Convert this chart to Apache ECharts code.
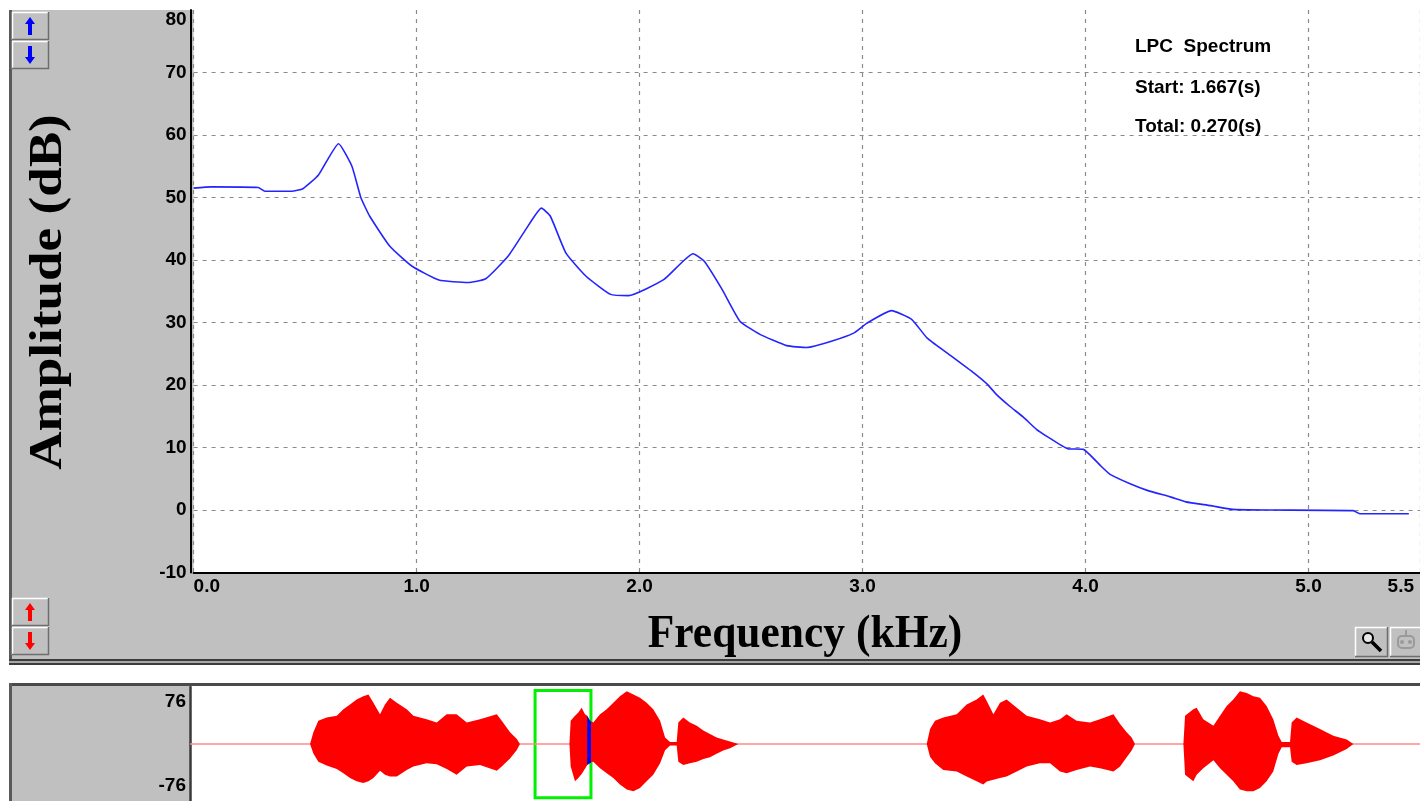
<!DOCTYPE html>
<html>
<head>
<meta charset="utf-8">
<script src="https://cdn.jsdelivr.net/npm/echarts@6/dist/echarts.min.js"></script>
<style>
  html, body { margin: 0; padding: 0; background: #ffffff; }
  #chart { width: 1420px; height: 801px; }
</style>
</head>
<body>
<div id="chart"></div>
<script>
// ---- LPC spectrum envelope ----
const freqKHz = [0.00, 0.08, 0.29, 0.32, 0.44, 0.49, 0.56, 0.65, 0.71, 0.75, 0.79, 0.88, 0.98, 1.10, 1.23,
  1.31, 1.41, 1.49, 1.56, 1.60, 1.67, 1.76, 1.87, 1.95, 2.11, 2.24, 2.29, 2.37, 2.45, 2.54, 2.66, 2.75,
  2.86, 2.96, 3.02, 3.13, 3.22, 3.29, 3.38, 3.50, 3.56, 3.60, 3.66, 3.72, 3.78, 3.83, 3.92, 3.99, 4.07,
  4.11, 4.20, 4.28, 4.38, 4.45, 4.56, 4.66, 4.83, 5.20, 5.23, 5.45];
const amplitudeDb = [51.5, 51.7, 51.6, 51.0, 51.0, 51.4, 53.6, 58.6, 55.0, 50.0, 47.0, 42.2, 39.0, 36.8, 36.4,
  37.0, 40.6, 44.9, 48.3, 47.0, 41.1, 37.4, 34.5, 34.3, 36.9, 41.0, 39.8, 35.3, 30.2, 28.1, 26.3, 26.0,
  27.0, 28.3, 29.9, 31.9, 30.5, 27.5, 25.1, 21.9, 20.1, 18.5, 16.6, 14.9, 12.9, 11.7, 9.8, 9.7, 7.0,
  5.7, 4.2, 3.1, 2.1, 1.3, 0.7, 0.1, 0.0, -0.1, -0.6, -0.6];

// axis ranges
const freqRange = [0, 5.5];
const ampRange = [-10, 80];

// ---- waveform overview (seconds / sample amplitude envelope) ----
const waveDuration = 5.942;
const waveRangeLabels = [76, -76];
const waveTime = [
  0.000, 0.580, 0.596, 0.620, 0.660, 0.709, 0.741, 0.773, 0.805, 0.837, 0.862, 0.886, 0.918, 0.942, 0.966,
  0.999, 1.047, 1.079, 1.143, 1.192, 1.240, 1.288, 1.337, 1.401, 1.482, 1.506, 1.546, 1.578, 1.594,
  1.833, 1.839, 1.860, 1.876, 1.892, 1.908, 1.919, 1.932, 1.948,
  1.981, 2.013, 2.045, 2.077, 2.110, 2.142, 2.174, 2.206, 2.238, 2.271, 2.295, 2.319, 2.351, 2.359, 2.383,
  2.415, 2.448, 2.480, 2.512, 2.544, 2.576, 2.609, 2.649,
  3.559, 3.575, 3.599, 3.639, 3.704, 3.752, 3.800, 3.832, 3.849, 3.881, 3.913, 3.945, 3.994, 4.042, 4.106,
  4.155, 4.203, 4.235, 4.283, 4.348, 4.396, 4.461, 4.493, 4.525, 4.549, 4.565,
  4.799, 4.807, 4.847, 4.863, 4.895, 4.944, 4.976, 5.008, 5.040, 5.072, 5.105, 5.137, 5.169, 5.201, 5.233,
  5.258, 5.274, 5.314, 5.322, 5.346, 5.394, 5.459, 5.523, 5.588, 5.620, 5.942];
const waveUpper = [
  0, 0, 15.7, 31.0, 35.4, 37.6, 46.2, 52.8, 59.3, 63.8, 65.9, 55.0, 39.7, 52.8, 61.6,
  55.0, 46.2, 37.6, 33.1, 28.8, 39.7, 39.7, 28.8, 33.1, 39.7, 31.0, 15.7, 6.9, 0,
  0, 31.0, 37.6, 41.9, 48.5, 39.7, 37.6, 31.0, 28.8,
  39.7, 46.2, 55.0, 63.8, 70.3, 65.9, 61.6, 55.0, 46.2, 31.0, 8.8, 2.6, 2.6, 28.8, 35.4,
  28.8, 24.5, 17.9, 13.5, 8.8, 6.1, 3.5, 0,
  0, 20.0, 31.0, 35.4, 39.7, 52.8, 59.3, 65.9, 57.2, 39.7, 55.0, 59.3, 48.5, 37.6, 33.1,
  28.8, 33.1, 39.7, 31.0, 28.8, 33.1, 39.7, 26.6, 15.7, 8.8, 0,
  0, 37.6, 46.2, 48.5, 33.1, 24.5, 37.6, 50.7, 59.3, 70.3, 68.1, 63.8, 61.6, 50.7, 33.1,
  10.9, 2.6, 2.6, 28.8, 35.4, 28.8, 20.0, 10.9, 6.1, 0, 0];
const waveLower = [
  0, 0, -12.7, -23.6, -28.8, -33.2, -38.9, -45.4, -49.8, -52.0, -49.8, -45.4, -35.8, -41.0, -43.2,
  -43.2, -34.5, -30.1, -25.8, -27.1, -33.2, -41.0, -30.1, -28.0, -35.8, -30.1, -19.3, -8.3, 0,
  0, -30.1, -49.8, -45.4, -40.0, -33.0, -28.0, -25.0, -23.6,
  -32.3, -38.9, -45.4, -54.1, -60.6, -62.9, -58.6, -49.8, -41.0, -25.8, -8.3, -2.0, -2.0, -23.6, -28.0,
  -25.8, -23.6, -20.0, -17.5, -13.0, -8.7, -5.7, 0,
  0, -17.0, -25.8, -34.5, -36.7, -43.2, -49.8, -54.1, -50.0, -47.6, -45.4, -43.2, -36.7, -30.1, -25.8,
  -25.8, -36.7, -38.9, -34.5, -30.1, -32.3, -36.7, -30.1, -17.5, -8.7, 0,
  0, -41.0, -49.8, -41.0, -32.3, -21.8, -32.3, -41.0, -49.8, -60.6, -62.9, -62.9, -58.6, -49.8, -36.7,
  -13.0, -4.4, -4.4, -23.6, -28.0, -25.8, -21.8, -15.2, -6.6, 0, 0];

// cursor position inside the analysed frame
const cursorTime = [1.919, 1.928, 1.937];
const cursorUpper = [37.6, 33.0, 30.0];
const cursorLower = [-28.0, -26.0, -24.5];

// analysis frame
const frameStart = 1.667;
const frameTotal = 0.270;

const infoLines = [
  'LPC  Spectrum',
  'Start: ' + frameStart.toFixed(3) + '(s)',
  'Total: ' + frameTotal.toFixed(3) + '(s)'
];

// ---- helpers ----
const pairs = (xs, ys) => xs.map((x, i) => [x, ys[i]]);
const FACE = '#c0c0c0';
const tickFont = { fontFamily: '"Liberation Sans", Arial, sans-serif', fontWeight: 'bold', fontSize: 19, color: '#000' };

function bevelButton(x, y, w, h) {
  return [
    { type: 'rect', shape: { x: x, y: y, width: w, height: h }, style: { fill: FACE }, z: 50 },
    { type: 'polyline', shape: { points: [[x + 0.5, y + h], [x + 0.5, y + 0.5], [x + w, y + 0.5]] },
      style: { stroke: '#ffffff', lineWidth: 1.5, fill: null }, z: 51 },
    { type: 'polyline', shape: { points: [[x + w - 0.5, y], [x + w - 0.5, y + h - 0.5], [x, y + h - 0.5]] },
      style: { stroke: '#6e6e6e', lineWidth: 1.5, fill: null }, z: 51 }
  ];
}
function arrow(cx, cy, up, color) {
  const s = up ? 1 : -1;
  const pts = [[cx, cy - 9 * s], [cx + 5, cy - 2 * s], [cx + 2, cy - 2 * s], [cx + 2, cy + 9 * s],
    [cx - 2, cy + 9 * s], [cx - 2, cy - 2 * s], [cx - 5, cy - 2 * s]];
  return { type: 'polygon', shape: { points: pts }, style: { fill: color }, z: 52 };
}

const serifBold = '"Liberation Serif", "Times New Roman", serif';
const graphics = [
  // main window face
  { type: 'rect', shape: { x: 10, y: 10, width: 1410, height: 651 }, style: { fill: FACE }, z: -10 },
  { type: 'rect', shape: { x: 9, y: 10, width: 3, height: 651 }, style: { fill: '#5a5a5a' }, z: -9 },
  // splitter between panes
  { type: 'rect', shape: { x: 9, y: 659, width: 1411, height: 2 }, style: { fill: '#3c3c3c' }, z: -9 },
  { type: 'rect', shape: { x: 9, y: 661, width: 1411, height: 2 }, style: { fill: '#a8a8a8' }, z: -9 },
  { type: 'rect', shape: { x: 9, y: 663, width: 1411, height: 2 }, style: { fill: '#3c3c3c' }, z: -9 },
  // waveform pane
  { type: 'rect', shape: { x: 10, y: 686, width: 180, height: 115 }, style: { fill: FACE }, z: -10 },
  { type: 'rect', shape: { x: 9, y: 683, width: 1411, height: 3 }, style: { fill: '#4a4a4a' }, z: 40 },
  { type: 'rect', shape: { x: 9, y: 683, width: 3, height: 118 }, style: { fill: '#5a5a5a' }, z: 40 },
  // axis titles
  { type: 'text', x: 49, y: 292, rotation: Math.PI / 2, scaleX: 1.13, z: 60,
    style: { text: 'Amplitude (dB)', font: 'bold 47px ' + serifBold,
      fill: '#000', textAlign: 'center', textVerticalAlign: 'middle' } },
  { type: 'text', x: 805, y: 635, scaleY: 1.06, z: 60,
    style: { text: 'Frequency (kHz)', font: 'bold 43.5px ' + serifBold,
      fill: '#000', textAlign: 'center', textVerticalAlign: 'middle' } }
];
// info block in the plot
infoLines.forEach((t, i) => {
  graphics.push({ type: 'text', x: 1135, y: [47, 88, 127][i], z: 60,
    style: { text: t, font: 'bold 19px "Liberation Sans", Arial, sans-serif', fill: '#000',
      textAlign: 'left', textVerticalAlign: 'middle' } });
});
// scroll buttons
graphics.push(...bevelButton(12, 12, 37, 28), arrow(30, 26, true, '#0000ff'));
graphics.push(...bevelButton(12, 41, 37, 28), arrow(30, 55, false, '#0000ff'));
graphics.push(...bevelButton(12, 598, 37, 28), arrow(30, 612, true, '#ff0000'));
graphics.push(...bevelButton(12, 627, 37, 28), arrow(30, 641, false, '#ff0000'));
// zoom / tool buttons
graphics.push(...bevelButton(1355, 627, 33, 30));
graphics.push({ type: 'circle', shape: { cx: 1368, cy: 638, r: 5 }, style: { fill: '#e8e8e8', stroke: '#000', lineWidth: 2 }, z: 53 });
graphics.push({ type: 'line', shape: { x1: 1372, y1: 642, x2: 1381, y2: 651 }, style: { stroke: '#000', lineWidth: 3.5 }, z: 53 });
graphics.push(...bevelButton(1390, 627, 32, 30));
graphics.push({ type: 'rect', shape: { x: 1398, y: 636, width: 16, height: 12, r: 4 }, style: { fill: 'none', stroke: '#9a9a9a', lineWidth: 2 }, z: 53 });
graphics.push({ type: 'line', shape: { x1: 1406, y1: 630, x2: 1406, y2: 636 }, style: { stroke: '#9a9a9a', lineWidth: 2 }, z: 53 });
graphics.push({ type: 'circle', shape: { cx: 1402, cy: 642, r: 2 }, style: { fill: '#9a9a9a' }, z: 53 });
graphics.push({ type: 'circle', shape: { cx: 1410, cy: 642, r: 2 }, style: { fill: '#9a9a9a' }, z: 53 });

const gridDash = { color: '#8a8a8a', width: 1.2, type: [4, 5] };

const option = {
  animation: false,
  backgroundColor: '#ffffff',
  grid: [
    { left: 193.6, top: 10, right: -4, bottom: 228.5, show: true, backgroundColor: '#ffffff', borderWidth: 0, containLabel: false },
    { left: 190, top: 687, right: 0, bottom: -2, show: true, backgroundColor: '#ffffff', borderWidth: 0, containLabel: false }
  ],
  xAxis: [
    {
      type: 'value', gridIndex: 0, min: freqRange[0], max: freqRange[1], interval: 1,
      axisLine: { show: true, onZero: false, lineStyle: { color: '#000', width: 2 } },
      axisTick: { show: false },
      splitLine: { show: true, lineStyle: gridDash },
      axisLabel: Object.assign({}, tickFont, {
        margin: 5,
        alignMinLabel: 'left', alignMaxLabel: 'right',
        formatter: v => v === freqRange[1] ? '{e|' + v.toFixed(1) + '}' : v.toFixed(1),
        rich: { e: Object.assign({}, tickFont, { padding: [0, 6, 0, 0] }) }
      })
    },
    { type: 'value', gridIndex: 1, min: 0, max: waveDuration, show: false }
  ],
  yAxis: [
    {
      type: 'value', gridIndex: 0, min: ampRange[0], max: ampRange[1], interval: 10, offset: 3,
      axisLine: { show: true, onZero: false, lineStyle: { color: '#000', width: 2 } },
      axisTick: { show: false },
      splitLine: { show: true, showMaxLine: false, lineStyle: gridDash },
      axisLabel: Object.assign({}, tickFont, {
        margin: 4,
        verticalAlignMaxLabel: 'top',
        formatter: v => String(v)
      })
    },
    {
      type: 'value', gridIndex: 1, min: waveRangeLabels[1], max: waveRangeLabels[0],
      axisLine: { show: true, onZero: false, lineStyle: { color: '#3a3a3a', width: 2.5 } },
      axisTick: { show: false },
      splitLine: { show: false },
      axisLabel: Object.assign({}, tickFont, {
        margin: 4,
        customValues: waveRangeLabels,
        formatter: v => v === waveRangeLabels[0] ? '{t|' + v + '}' : (v === waveRangeLabels[1] ? '{b|' + v + '}' : ''),
        rich: {
          t: Object.assign({}, tickFont, { padding: [30, 0, 0, 0] }),
          b: Object.assign({}, tickFont, { padding: [0, 0, 30, 0] })
        }
      })
    }
  ],
  series: [
    {
      name: 'LPC', type: 'line', xAxisIndex: 0, yAxisIndex: 0,
      data: pairs(freqKHz, amplitudeDb),
      showSymbol: false, smooth: 0.15,
      lineStyle: { color: '#2424ff', width: 1.6 },
      z: 5
    },
    {
      name: 'zero', type: 'line', xAxisIndex: 1, yAxisIndex: 1,
      data: [[0, 0], [waveDuration, 0]],
      showSymbol: false, lineStyle: { color: '#ff8a8a', width: 1.6 }, z: 1
    },
    {
      name: 'upper', type: 'line', xAxisIndex: 1, yAxisIndex: 1,
      data: pairs(waveTime, waveUpper),
      showSymbol: false, lineStyle: { width: 0 }, areaStyle: { color: '#ff0000', opacity: 1 }, z: 2,
      markArea: {
        silent: true,
        itemStyle: { color: 'rgba(0,0,0,0)', borderColor: '#00f000', borderWidth: 3 },
        data: [[{ xAxis: frameStart, yAxis: 71.5 }, { xAxis: frameStart + frameTotal, yAxis: -71.5 }]]
      }
    },
    {
      name: 'lower', type: 'line', xAxisIndex: 1, yAxisIndex: 1,
      data: pairs(waveTime, waveLower),
      showSymbol: false, lineStyle: { width: 0 }, areaStyle: { color: '#ff0000', opacity: 1 }, z: 2
    },
    {
      name: 'cursorUpper', type: 'line', xAxisIndex: 1, yAxisIndex: 1,
      data: pairs(cursorTime, cursorUpper),
      showSymbol: false, lineStyle: { width: 0 }, areaStyle: { color: '#0000ff', opacity: 1 }, z: 3
    },
    {
      name: 'cursorLower', type: 'line', xAxisIndex: 1, yAxisIndex: 1,
      data: pairs(cursorTime, cursorLower),
      showSymbol: false, lineStyle: { width: 0 }, areaStyle: { color: '#0000ff', opacity: 1 }, z: 3
    }
  ],
  graphic: { elements: graphics }
};

const chart = echarts.init(document.getElementById('chart'), null, { renderer: 'canvas' });
chart.setOption(option);
</script>
</body>
</html>
